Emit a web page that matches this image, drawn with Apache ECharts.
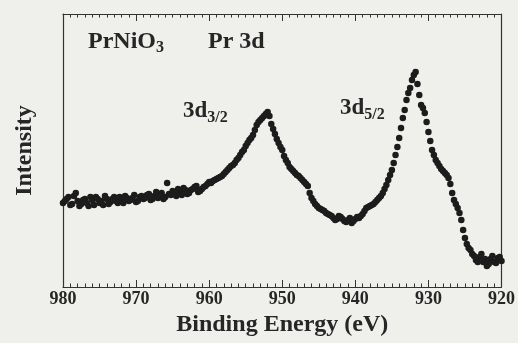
<!DOCTYPE html>
<html>
<head>
<meta charset="utf-8">
<script src="https://cdn.jsdelivr.net/npm/echarts@6/dist/echarts.min.js"></script>
<style>
html,body{margin:0;padding:0;background:#efefec;}
#chart{width:518px;height:343px;}
</style>
</head>
<body>
<div id="chart"></div>
<script>
// Binding energy (eV), points on the whole-eV / half-eV grid
const energy = [
980,979.5,979,978.5,978,977.5,977,976.5,976,975.5,975,974.5,974,973.5,973,972.5,972,971.5,971,970.5,
970,969.5,969,968.5,968,967.5,967,966.5,966,965.5,965,964.5,964,963.5,963,962.5,962,961.5,961,960.5,
960,959.5,959,958.5,958,957.5,957,956.5,956,955.5,955,954.5,954,953.5,953,952.5,952,951.5,951,950.5,
950,949.5,949,948.5,948,947.5,947,946.5,946,945.5,945,944.5,944,943.5,943,942.5,942,941.5,941,940.5,
940,939.5,939,938.5,938,937.5,937,936.5,936,935.5,935,934.5,934,933.5,933,932.5,932,931.5,931,930.5,
930,929.5,929,928.5,928,927.5,927,926.5,926,925.5,925,924.5,924,923.5,923,922.5,922,921.5,921,920.5,920
];
// Intensity (arb. units) at those energies
const intensity = [
84,88,82,91,86,83,88,81,87,90,84,82,88,85,90,84,87,91,86,89,
85,90,88,92,87,91,89,94,90,93,96,91,95,99,93,97,100,95,98,101,
105,106,108,110,113,117,121,124,129,135,141,147,152,162,167,171,175,163,153,144,
137,127,120,116,112,109,105,101,89,83,79,77,74,72,69,68,70,66,67,64,
68,69,73,79,81,83,87,91,98,107,117,132,149,169,187,199,212,203,182,174,
155,137,127,121,116,112,103,87,79,67,49,39,33,27,30,25,21,28,25,29,26
];
// Binding energy (eV), intermediate points (quarter-eV offsets)
const energyMid = [
979.75,979.25,978.75,978.25,977.75,977.25,976.75,976.25,975.75,975.25,974.75,974.25,973.75,973.25,972.75,972.25,971.75,971.25,970.75,970.25,
969.75,969.25,968.75,968.25,967.75,967.25,966.75,966.25,965.75,965.25,964.75,964.25,963.75,963.25,962.75,962.25,961.75,961.25,960.75,960.25,
959.75,959.25,958.75,958.25,957.75,957.25,956.75,956.25,955.75,955.25,954.75,954.25,953.75,953.25,952.75,952.25,951.75,951.25,950.75,950.25,
949.75,949.25,948.75,948.25,947.75,947.25,946.75,946.25,945.75,945.25,944.75,944.25,943.75,943.25,942.75,942.25,941.75,941.25,940.75,940.25,
939.75,939.25,938.75,938.25,937.75,937.25,936.75,936.25,935.75,935.25,934.75,934.25,933.75,933.25,932.75,932.25,931.75,931.25,930.75,930.25,
929.75,929.25,928.75,928.25,927.75,927.25,926.75,926.25,925.75,925.25,924.75,924.25,923.75,923.25,922.75,922.25,921.75,921.25,920.75,920.25
];
// Intensity (arb. units) at the intermediate energies
const intensityMid = [
86,90,83,94,81,87,84,90,82,88,86,91,83,88,86,90,84,89,87,92,
86,91,89,93,88,95,91,88,104,92,94,98,92,97,94,98,101,96,100,103,
104,107,109,111,115,119,122,127,132,137,144,149,157,165,169,173,171,158,148,140,
131,124,118,114,111,107,103,94,86,81,78,76,73,71,67,71,68,65,69,66,
70,71,76,80,82,85,89,94,102,112,124,140,159,177,194,207,215,192,179,165,
146,132,124,118,114,109,94,83,74,57,43,37,31,25,33,28,23,31,24,30
];
const xTicks = [980, 970, 960, 950, 940, 930, 920];
const labels = { compound: 'PrNiO', level: 'Pr 3d', xName: 'Binding Energy (eV)', yName: 'Intensity' };

const points = energy.map((e, i) => [e, intensity[i]])
  .concat(energyMid.map((e, i) => [e, intensityMid[i]]));
const font = '"Liberation Serif", "DejaVu Serif", serif';
const ink = '#262626';

const xCommon = {
  type: 'value', min: 920, max: 980, interval: 10, inverse: true,
  axisLine: { onZero: false, lineStyle: { color: '#333', width: 1.2 } },
  axisTick: { inside: true, length: 7, lineStyle: { color: '#333' } },
  minorTick: { show: true, splitNumber: 10, length: 3.5, lineStyle: { color: '#333' } },
  splitLine: { show: false }
};
const yCommon = {
  type: 'value', min: 0, max: 273,
  axisLine: { show: true, onZero: false, lineStyle: { color: '#333', width: 1.2 } },
  axisTick: { show: false }, axisLabel: { show: false }, splitLine: { show: false }
};

const chart = echarts.init(document.getElementById('chart'), null, { renderer: 'canvas' });
chart.setOption({
  backgroundColor: '#efefec',
  animation: false,
  grid: { left: 63, right: 15, top: 14, bottom: 56 },
  xAxis: [Object.assign({}, xCommon, {
    position: 'bottom',
    name: labels.xName, nameLocation: 'middle', nameGap: 24,
    nameTextStyle: { fontFamily: font, fontWeight: 'bold', fontSize: 24, color: ink },
    axisLabel: { fontFamily: font, fontWeight: 'bold', fontSize: 18, color: ink, margin: 3,
      formatter: v => xTicks.includes(v) ? String(v) : '' }
  }), Object.assign({}, xCommon, {
    position: 'top',
    axisLabel: { show: false }
  })],
  yAxis: [Object.assign({}, yCommon, {
    position: 'left',
    name: labels.yName, nameLocation: 'middle', nameGap: 26, nameRotate: 90,
    nameTextStyle: { fontFamily: font, fontWeight: 'bold', fontSize: 24, color: ink }
  }), Object.assign({}, yCommon, { position: 'right' })],
  series: [{
    type: 'scatter', xAxisIndex: 0, yAxisIndex: 0,
    data: points, symbol: 'circle', symbolSize: 6.5,
    itemStyle: { color: '#1c1c1c', opacity: 1 }
  }],
  graphic: [
    { type: 'text', left: 88, top: 30, style: {
      text: '{m|' + labels.compound + '}{s|3}', fill: ink,
      rich: { m: { fontFamily: font, fontWeight: 'bold', fontSize: 24, fill: ink },
              s: { fontFamily: font, fontWeight: 'bold', fontSize: 16, fill: ink, padding: [12,0,0,0] } } } },
    { type: 'text', left: 208, top: 30, style: {
      text: labels.level, fill: ink, font: 'bold 24px ' + font } },
    { type: 'text', left: 183, top: 100, style: {
      text: '{m|3d}{s|3/2}', fill: ink,
      rich: { m: { fontFamily: font, fontWeight: 'bold', fontSize: 23, fill: ink },
              s: { fontFamily: font, fontWeight: 'bold', fontSize: 16, fill: ink, padding: [12,0,0,0] } } } },
    { type: 'text', left: 340, top: 97, style: {
      text: '{m|3d}{s|5/2}', fill: ink,
      rich: { m: { fontFamily: font, fontWeight: 'bold', fontSize: 23, fill: ink },
              s: { fontFamily: font, fontWeight: 'bold', fontSize: 16, fill: ink, padding: [12,0,0,0] } } } }
  ]
});
</script>
</body>
</html>
